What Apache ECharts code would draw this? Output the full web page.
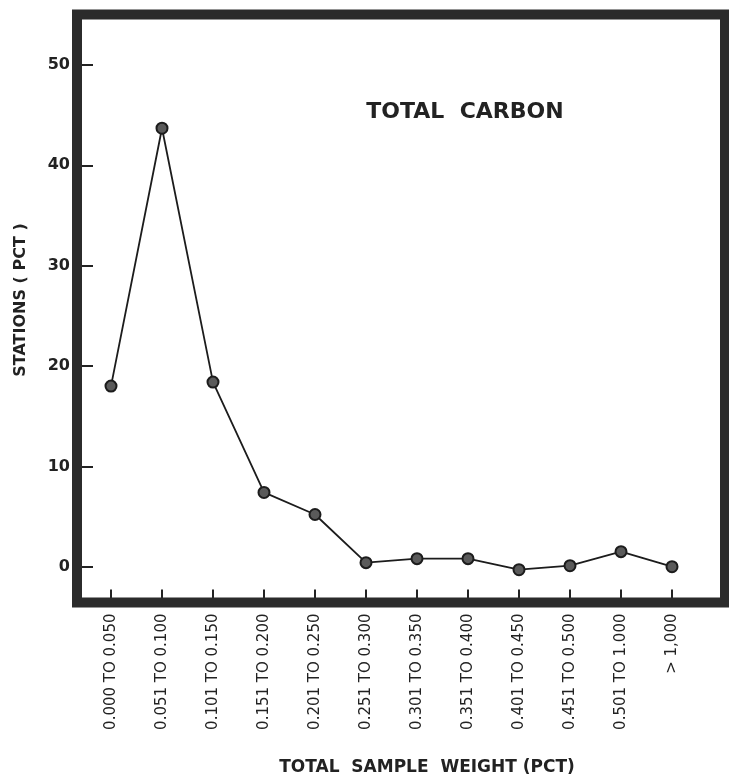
<!DOCTYPE html>
<html>
<head>
<meta charset="utf-8">
<script src="https://cdn.jsdelivr.net/npm/echarts@6/dist/echarts.min.js"></script>
<style>
html,body{margin:0;padding:0;background:#fff;}
#chart{width:729px;height:781px;}
</style>
</head>
<body>
<div id="chart"></div>
<script>
var categories = ['0.000 TO 0.050','0.051 TO 0.100','0.101 TO 0.150','0.151 TO 0.200','0.201 TO 0.250','0.251 TO 0.300','0.301 TO 0.350','0.351 TO 0.400','0.401 TO 0.450','0.451 TO 0.500','0.501 TO 1.000','> 1,000'];
var stationsPct = [18.0, 43.7, 18.4, 7.4, 5.2, 0.4, 0.8, 0.8, -0.3, 0.1, 1.5, 0.0];
var yTicks = [0, 10, 20, 30, 40, 50];

var FONT = 'DejaVu Sans';
var INK = '#222222';
var chart = echarts.init(document.getElementById('chart'), null, {renderer:'canvas'});
chart.setOption({
  backgroundColor: '#ffffff',
  animation: false,
  title: {
    text: 'TOTAL  CARBON',
    left: 460, top: 96, textAlign: 'center',
    textStyle: {fontFamily: FONT, fontSize: 22, fontWeight: 'bold', color: INK}
  },
  grid: {left: 85.5, right: 31.5, top: 65, bottom: 214.3, containLabel: false},
  xAxis: {
    type: 'category',
    data: categories,
    boundaryGap: true,
    offset: 35.8,
    axisLine: {show: false, onZero: false},
    axisTick: {show: true, alignWithLabel: true, inside: true, length: 13, lineStyle: {color: INK, width: 2}},
    axisLabel: {rotate: 90, margin: 11, interval: 0, fontFamily: FONT, fontSize: 15, color: INK},
    splitLine: {show: false}
  },
  yAxis: {
    type: 'value',
    min: yTicks[0], max: yTicks[yTicks.length - 1], interval: 10,
    offset: 8.5,
    axisLine: {show: false, onZero: false},
    axisTick: {show: true, inside: true, length: 16, lineStyle: {color: INK, width: 2}},
    axisLabel: {margin: 7, fontFamily: FONT, fontSize: 16, fontWeight: 'bold', color: INK},
    splitLine: {show: false}
  },
  graphic: [
    {type: 'rect', z: 100, shape: {x: 77, y: 14.5, width: 648, height: 588},
     style: {fill: null, stroke: '#2b2b2b', lineWidth: 10}},
    {type: 'text', z: 100, x: 21, y: 300, rotation: Math.PI / 2,
     style: {text: 'STATIONS ( PCT )', align: 'center', verticalAlign: 'middle',
             font: 'bold 16px "DejaVu Sans"', fill: INK}},
    {type: 'text', z: 100, x: 427, y: 768,
     style: {text: 'TOTAL  SAMPLE  WEIGHT (PCT)', align: 'center', verticalAlign: 'middle',
             font: 'bold 17px "DejaVu Sans"', fill: INK}}
  ],
  series: [{
    type: 'line',
    data: stationsPct,
    clip: false,
    symbol: 'circle',
    symbolSize: 11,
    itemStyle: {color: '#5a5a5a', borderColor: '#1c1c1c', borderWidth: 2},
    lineStyle: {color: '#1c1c1c', width: 1.8}
  }]
});
</script>
</body>
</html>
